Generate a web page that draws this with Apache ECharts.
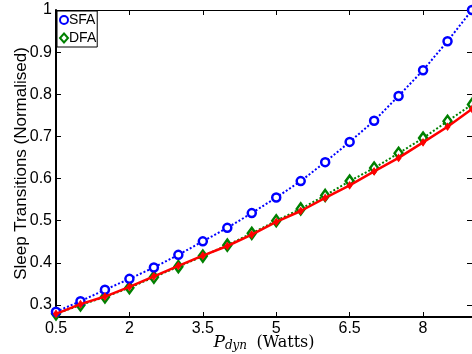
<!DOCTYPE html>
<html><head><meta charset="utf-8">
<script src="https://cdn.jsdelivr.net/npm/echarts@6/dist/echarts.min.js"></script>
<style>html,body{margin:0;padding:0;background:#fff}#c{width:472px;height:354px}</style>
</head><body><div id="c"></div>
<script>
const pdyn = [0.5,1,1.5,2,2.5,3,3.5,4,4.5,5,5.5,6,6.5,7,7.5,8,8.5,9];
const sfa = [0.284,0.309,0.336,0.362,0.389,0.419,0.451,0.483,0.518,0.555,0.594,0.639,0.687,0.737,0.796,0.857,0.926,1.0];
const dfa = [0.279,0.300,0.319,0.341,0.366,0.391,0.416,0.442,0.470,0.500,0.528,0.560,0.594,0.625,0.660,0.696,0.736,0.776];
const ref = [0.279,0.302,0.320,0.343,0.368,0.393,0.417,0.440,0.467,0.497,0.523,0.554,0.584,0.617,0.649,0.686,0.723,0.765];
const xTicks = [0.5,2,3.5,5,6.5,8];
const yTicks = [0.3,0.4,0.5,0.6,0.7,0.8,0.9,1];

const pair = (ys) => pdyn.map((x,i)=>[x,ys[i]]);
const font = 'Liberation Sans';
const chart = echarts.init(document.getElementById('c'));
const baseX = {type:'value', min:0.5, max:9, splitLine:{show:false},
  axisLine:{lineStyle:{color:'#000', width:1}},
  axisTick:{inside:true, length:5, lineStyle:{color:'#000'}, customValues:xTicks}};
const baseY = {type:'value', min:0.2715, max:1, splitLine:{show:false},
  axisLine:{lineStyle:{color:'#000', width:1}},
  axisTick:{inside:true, length:5, lineStyle:{color:'#000'}, customValues:yTicks}};
chart.setOption({
  animation:false,
  grid:{left:56, right:0, top:10, bottom:37, containLabel:false, outerBoundsMode:'none'},
  xAxis:[
    Object.assign({}, baseX, {position:'bottom',
      axisLine:{lineStyle:{color:'#000', width:2}},
      axisLabel:{color:'#000', fontFamily:font, fontSize:16, margin:4, customValues:xTicks},
      name:'{i|P}{s|dyn} {n|(Watts)}', nameLocation:'middle', nameGap:16, nameMoveOverlap:false,
      nameTextStyle:{rich:{
        i:{fontFamily:'DejaVu Serif', fontStyle:'italic', fontSize:17, color:'#000'},
        s:{fontFamily:'DejaVu Serif', fontStyle:'italic', fontSize:12, color:'#000', verticalAlign:'bottom', padding:[7,0,0,0]},
        n:{fontFamily:'DejaVu Serif', fontSize:16, color:'#000', padding:[0,0,0,6]}}}}),
    Object.assign({}, baseX, {position:'top', axisLabel:{show:false}})
  ],
  yAxis:[
    Object.assign({}, baseY, {position:'left',
      axisLine:{lineStyle:{color:'#000', width:2}},
      axisLabel:{color:'#000', fontFamily:font, fontSize:16, margin:4, customValues:yTicks},
      name:'Sleep Transitions (Normalised)', nameLocation:'middle', nameGap:26, nameMoveOverlap:false,
      nameTextStyle:{color:'#000', fontFamily:font, fontSize:17}}),
    Object.assign({}, baseY, {position:'right', axisLabel:{show:false}})
  ],
  legend:{left:57, top:11, orient:'vertical', backgroundColor:'#fff', borderColor:'#000', borderWidth:1,
    padding:[2,1,2,2], itemGap:4, itemWidth:8, itemHeight:9,
    textStyle:{fontFamily:font, fontSize:14, color:'#000', padding:[0,0,0,-4]},
    data:[
      {name:'SFA', icon:'circle', itemStyle:{color:'#fff', borderColor:'#0000ff', borderWidth:2}},
      {name:'DFA', icon:'diamond', itemStyle:{color:'#fff', borderColor:'#008000', borderWidth:2}}
    ]},
  series:[
    {name:'SFA', type:'line', data:pair(sfa), symbol:'circle', symbolSize:8, showAllSymbol:true,
      lineStyle:{color:'#0000ff', width:2, type:[2,2]},
      itemStyle:{color:'#fff', borderColor:'#0000ff', borderWidth:2.5}, z:3},
    {name:'DFA', type:'line', data:pair(dfa), symbol:'diamond', symbolSize:[8,11], showAllSymbol:true,
      lineStyle:{color:'#008000', width:2, type:[2,2]},
      itemStyle:{color:'#fff', borderColor:'#008000', borderWidth:2.5}, z:2},
    {name:'Ref', type:'line', data:pair(ref), symbol:'diamond', symbolSize:[5,7], showAllSymbol:true,
      lineStyle:{color:'#ff0000', width:2.5},
      itemStyle:{color:'#ff0000', borderColor:'#ff0000', borderWidth:1}, z:4}
  ]
});
</script></body></html>
